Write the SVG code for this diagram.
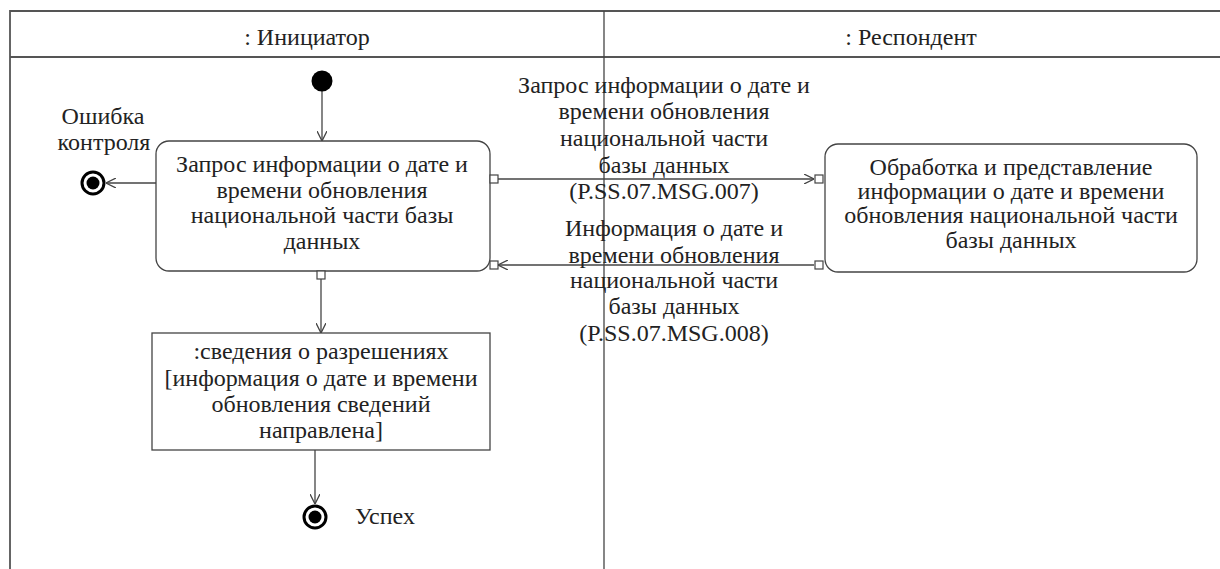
<svg xmlns="http://www.w3.org/2000/svg" width="1220" height="569" viewBox="0 0 1220 569">
<defs>
<style>
.t{font-size:24px;fill:#222;text-anchor:middle}
.ln{stroke:#444;stroke-width:1.3;fill:none}
.fr{stroke:#555;stroke-width:1.8;fill:none}
.box{fill:#fff;stroke:#444;stroke-width:1.3}
.pin{fill:#fff;stroke:#444;stroke-width:1.2}
</style>
<marker id="arr" viewBox="0 0 10 10" refX="10" refY="5" markerWidth="10" markerHeight="10" markerUnits="userSpaceOnUse" orient="auto">
<path d="M0,0 L10,5 L0,10" fill="none" stroke="#444" stroke-width="1.3"/>
</marker>
</defs>
<rect width="1220" height="569" fill="#fff"/>
<g font-family="'Liberation Serif', 'DejaVu Serif', serif">
<g id="frame">
<path class="fr" d="M10,569 V11 H1220 M10,57 H1220"/>
<path class="ln" d="M604,11 V569"/>
<text class="t" x="307" y="45">: Инициатор</text>
<text class="t" x="911" y="45">: Респондент</text>
</g>
<g id="connectors">
<line class="ln" x1="322" y1="91" x2="322" y2="141" marker-end="url(#arr)"/>
<line class="ln" x1="156" y1="183" x2="106" y2="183" marker-end="url(#arr)"/>
<line class="ln" x1="498" y1="179" x2="814" y2="179" marker-end="url(#arr)"/>
<line class="ln" x1="814" y1="265" x2="498" y2="265" marker-end="url(#arr)"/>
<line class="ln" x1="321" y1="279" x2="321" y2="333" marker-end="url(#arr)"/>
<line class="ln" x1="315" y1="450" x2="315" y2="504" marker-end="url(#arr)"/>
<text class="t" x="664" y="93">Запрос информации о дате и</text>
<text class="t" x="664" y="119">времени обновления</text>
<text class="t" x="664" y="146">национальной части</text>
<text class="t" x="664" y="173">базы данных</text>
<text class="t" x="664" y="199">(P.SS.07.MSG.007)</text>
<text class="t" x="674" y="236">Информация о дате и</text>
<text class="t" x="674" y="263">времени обновления</text>
<text class="t" x="674" y="288">национальной части</text>
<text class="t" x="674" y="314">базы данных</text>
<text class="t" x="674" y="341">(P.SS.07.MSG.008)</text>
</g>
<g id="start">
<circle cx="322" cy="81" r="10.5" fill="#000"/>
</g>
<g id="action1">
<rect class="box" x="156" y="141" width="334" height="130" rx="13"/>
<text class="t" x="322" y="172">Запрос информации о дате и</text>
<text class="t" x="322" y="198">времени обновления</text>
<text class="t" x="322" y="223">национальной части базы</text>
<text class="t" x="322" y="249">данных</text>
<rect class="pin" x="490" y="175" width="8" height="8"/>
<rect class="pin" x="490" y="261" width="8" height="8"/>
<rect class="pin" x="317" y="271" width="8" height="8"/>
</g>
<g id="error-end">
<circle cx="93" cy="183" r="11" fill="#fff" stroke="#000" stroke-width="3"/>
<circle cx="93" cy="183" r="6.5" fill="#000"/>
<text class="t" x="103" y="124">Ошибка</text>
<text class="t" x="104" y="150">контроля</text>
</g>
<g id="action2">
<rect class="box" x="825" y="144" width="372" height="128" rx="13"/>
<text class="t" x="1011" y="175">Обработка и представление</text>
<text class="t" x="1011" y="199">информации о дате и времени</text>
<text class="t" x="1011" y="223">обновления национальной части</text>
<text class="t" x="1011" y="248">базы данных</text>
<rect class="pin" x="815" y="175" width="8" height="8"/>
<rect class="pin" x="815" y="261" width="8" height="8"/>
</g>
<g id="object">
<rect class="box" x="152" y="333" width="338" height="117"/>
<text class="t" x="321" y="359">:сведения о разрешениях</text>
<text class="t" x="321" y="386">[информация о дате и времени</text>
<text class="t" x="321" y="412">обновления сведений</text>
<text class="t" x="321" y="438">направлена]</text>
</g>
<g id="success-end">
<circle cx="315" cy="517" r="11" fill="#fff" stroke="#000" stroke-width="3"/>
<circle cx="315" cy="517" r="6.5" fill="#000"/>
<text class="t" x="355" y="524" style="text-anchor:start">Успех</text>
</g>
</g>
</svg>
